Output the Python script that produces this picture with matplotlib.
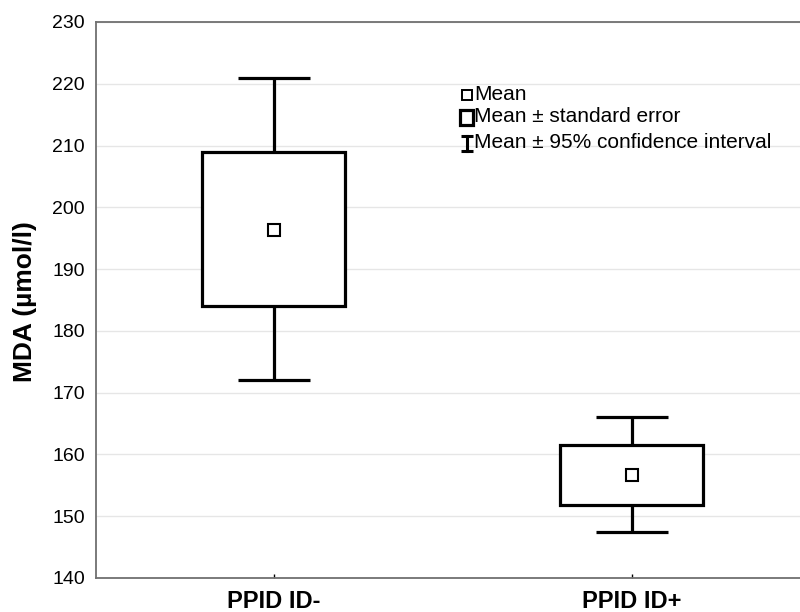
import matplotlib
matplotlib.use("Agg")
import matplotlib.pyplot as plt
from matplotlib.patches import Rectangle

plt.rcParams['font.family'] = ['Liberation Sans', 'DejaVu Sans']

groups = ["PPID ID-", "PPID ID+"]
means = [196.4, 156.7]
se_low = [184.0, 151.8]
se_high = [209.0, 161.6]
ci_low = [172.1, 147.4]
ci_high = [220.9, 166.1]
yticks = [140, 150, 160, 170, 180, 190, 200, 210, 220, 230]

fig = plt.figure(figsize=(8, 6.12), dpi=100)
ax = fig.add_axes([96/800, 34/612, 704/800, 556/612])

box_half = 0.2
cap_half = 0.1
lw = 2.3
xs = [1, 2]
for x, m, sl, sh, cl, ch in zip(xs, means, se_low, se_high, ci_low, ci_high):
    ax.add_patch(Rectangle((x - box_half, sl), 2 * box_half, sh - sl,
                           facecolor='white', edgecolor='black', linewidth=lw, zorder=3))
    ax.vlines(x, sh, ch, color='black', linewidth=lw, zorder=3)
    ax.vlines(x, cl, sl, color='black', linewidth=lw, zorder=3)
    ax.hlines([cl, ch], x - cap_half, x + cap_half, color='black', linewidth=lw, zorder=3)
    ax.plot([x], [m], marker='s', markersize=8.5, markerfacecolor='white',
            markeredgecolor='black', markeredgewidth=1.5, linestyle='none', zorder=4)

ax.set_xlim(0.503, 2.47)
ax.set_ylim(140, 230)
ax.set_yticks(yticks)
ax.set_xticks(xs)
ax.set_xticklabels(groups, fontsize=17, fontweight='bold')
ax.tick_params(axis='y', labelsize=14, length=0, pad=8)
ax.tick_params(axis='x', length=3, width=1, direction='in', pad=9, color='black')
ax.set_ylabel("MDA (µmol/l)", fontsize=19, fontweight='bold')
ax.yaxis.set_label_coords(-(96 - 37) / 704, (578 - 302) / 556)
ax.yaxis.grid(True, color='#e6e6e6', linewidth=1)
ax.set_axisbelow(True)
for s in ['left', 'bottom', 'top']:
    ax.spines[s].set_color('#707070')
    ax.spines[s].set_linewidth(1.3)
ax.spines['right'].set_visible(False)

# legend (manual)
tr = ax.transAxes
def ax_xy(px, py):
    return ((px - 96) / 704, (578 - py) / 556)

lx, ly = ax_xy(466.5, 95)
ax.plot([lx], [ly], marker='s', markersize=7.2, markerfacecolor='white',
        markeredgecolor='black', markeredgewidth=1.4, transform=tr, clip_on=False)
x0, _ = ax_xy(460.5, 0)
x1, _ = ax_xy(472.5, 0)
_, y0 = ax_xy(0, 124.5)
_, y1 = ax_xy(0, 110)
ax.add_patch(Rectangle((x0, y0), x1 - x0, y1 - y0, transform=tr, facecolor='white',
                       edgecolor='black', linewidth=2.3, clip_on=False))
x0, _ = ax_xy(461, 0)
x1, _ = ax_xy(473, 0)
xc, _ = ax_xy(467, 0)
_, y0 = ax_xy(0, 136)
_, y1 = ax_xy(0, 151)
ax.plot([x0, x1], [y0, y0], color='black', linewidth=2.2, transform=tr, clip_on=False, solid_capstyle='butt')
ax.plot([x0, x1], [y1, y1], color='black', linewidth=2.2, transform=tr, clip_on=False, solid_capstyle='butt')
ax.plot([xc, xc], [y0, y1], color='black', linewidth=2.2, transform=tr, clip_on=False)

for py, txt in [(94, "Mean"), (117, "Mean ± standard error"), (142, "Mean ± 95% confidence interval")]:
    tx, ty = ax_xy(474, py)
    ax.text(tx, ty, txt, transform=tr, fontsize=15, va='center', ha='left')

fig.savefig("out.png", dpi=100)
